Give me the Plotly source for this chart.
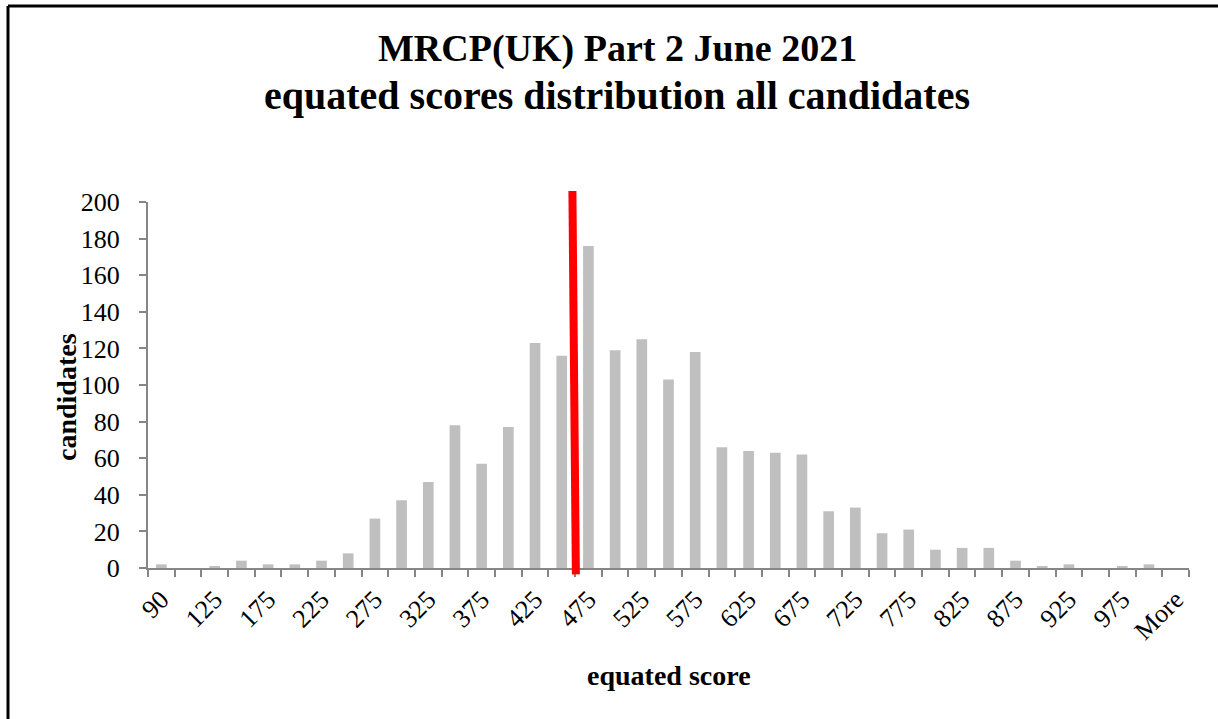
import plotly.graph_objects as go

# ---- data ----
CATEGORIES = ["90", "100", "125", "150", "175", "200", "225", "250", "275", "300",
              "325", "350", "375", "400", "425", "450", "475", "500", "525", "550",
              "575", "600", "625", "650", "675", "700", "725", "750", "775", "800",
              "825", "850", "875", "900", "925", "950", "975", "1000", "More"]
CANDIDATES = [2, 0, 1, 4, 2, 2, 4, 8, 27, 37,
              47, 78, 57, 77, 123, 116, 176, 119, 125, 103,
              118, 66, 64, 63, 62, 31, 33, 19, 21, 10,
              11, 11, 4, 1, 2, 0, 1, 2, 0]
LABELLED_CATEGORIES = ["90", "125", "175", "225", "275", "325", "375", "425", "475",
                       "525", "575", "625", "675", "725", "775", "825", "875", "925",
                       "975", "More"]
PASS_MARK_BOUNDARY = 15.5  # between "450" and "475" bins

TITLE_LINES = ["MRCP(UK) Part 2 June 2021", "equated scores distribution all candidates"]
X_TITLE = "equated score"
Y_TITLE = "candidates"

# ---- layout geometry ----
W, H = 1218, 719
ML, MR, MT, MB = 148, 29, 202, 151
FONT = "Liberation Serif"
AXIS_GREY = "#868686"


def px_x(px):
    return (px - ML) / (W - ML - MR)


def px_y(py):
    return (H - MB - py) / (H - MT - MB)


ticktext = [c if c in LABELLED_CATEGORIES else "" for c in CATEGORIES]

fig = go.Figure()
fig.add_trace(go.Bar(
    x=CATEGORIES, y=CANDIDATES,
    marker=dict(color="#BFBFBF", line=dict(width=0)),
    hoverinfo="x+y",
))

fig.update_layout(
    width=W, height=H,
    margin=dict(l=ML, r=MR, t=MT, b=MB),
    paper_bgcolor="white", plot_bgcolor="white",
    showlegend=False,
    bargap=0.6,
    font=dict(family=FONT, color="black"),
    xaxis=dict(
        type="category", categoryorder="array", categoryarray=CATEGORIES,
        tickmode="array", tickvals=CATEGORIES, ticktext=ticktext,
        tickson="boundaries", ticks="outside", ticklen=7, tickwidth=2,
        tickcolor=AXIS_GREY, tickangle=-45, ticklabelstandoff=4,
        tickfont=dict(family=FONT, size=26, color="black"),
        showline=True, linecolor=AXIS_GREY, linewidth=2,
        showgrid=False, zeroline=False,
    ),
    yaxis=dict(
        range=[0, 200], tickmode="linear", tick0=0, dtick=20,
        ticks="outside", ticklen=7, tickwidth=2, tickcolor=AXIS_GREY,
        ticklabelstandoff=14,
        tickfont=dict(family=FONT, size=26, color="black"),
        showline=True, linecolor=AXIS_GREY, linewidth=2,
        showgrid=False, zeroline=False,
    ),
)

# title (two centred bold lines)
for text, ypx, size in zip(TITLE_LINES, [48, 96], [38, 40]):
    fig.add_annotation(text="<b>" + text + "</b>", xref="paper", yref="paper",
                       x=px_x(617), y=px_y(ypx), xanchor="center", yanchor="middle",
                       showarrow=False, font=dict(family=FONT, size=size, color="black"))

# axis titles
fig.add_annotation(text="<b>" + X_TITLE + "</b>", xref="paper", yref="paper",
                   x=px_x(669), y=px_y(675), xanchor="center", yanchor="middle",
                   showarrow=False, font=dict(family=FONT, size=28, color="black"))
fig.add_annotation(text="<b>" + Y_TITLE + "</b>", xref="paper", yref="paper",
                   x=px_x(66), y=px_y(397), xanchor="center", yanchor="middle",
                   textangle=-90, showarrow=False,
                   font=dict(family=FONT, size=28, color="black"))

# pass-mark line (drawn slightly slanted as in the original)
fig.add_shape(type="line", xref="x", yref="y domain",
              x0=PASS_MARK_BOUNDARY + 0.03, y0=-3.5 / 200,
              x1=PASS_MARK_BOUNDARY - 0.1, y1=206 / 200,
              line=dict(color="#FF0000", width=8), layer="above")

# outer chart border (top and left edges visible)
fig.add_shape(type="line", xref="paper", yref="paper",
              x0=px_x(8), y0=px_y(6), x1=px_x(W + 5), y1=px_y(6),
              line=dict(color="black", width=3))
fig.add_shape(type="line", xref="paper", yref="paper",
              x0=px_x(8), y0=px_y(6), x1=px_x(8), y1=px_y(H + 5),
              line=dict(color="black", width=3))

fig.write_html("out.html", config={"displayModeBar": False},
               post_script="document.body.style.margin='0';document.body.style.overflow='hidden';")
